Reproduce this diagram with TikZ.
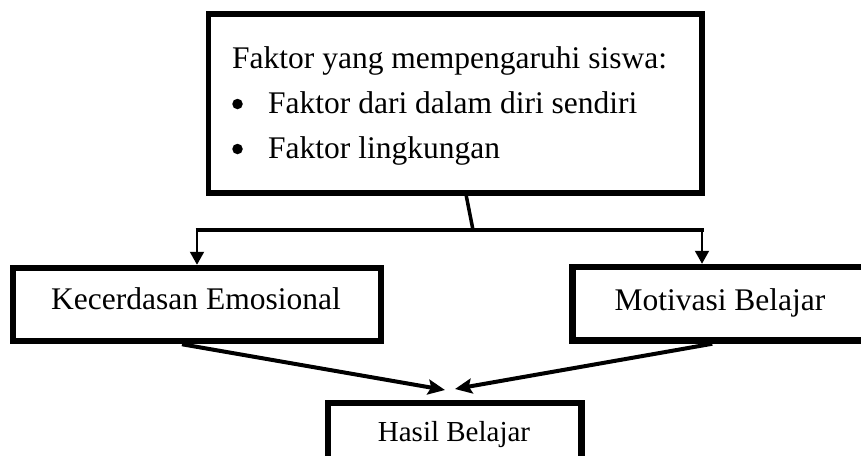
\documentclass[tikz,border=0pt]{standalone}
\usepackage{fontspec}
\setmainfont{Liberation Serif}
\usetikzlibrary{arrows.meta}
\begin{document}
\begin{tikzpicture}[x=1pt,y=-1pt,
  boxa/.style={draw=black,line width=5.5pt,inner sep=0pt,fill=white},
  boxb/.style={draw=black,line width=6.5pt,inner sep=0pt,fill=white},
  txt/.style={inner sep=0pt,font=\fontsize{31.5}{45}\selectfont},
  txts/.style={inner sep=0pt,font=\fontsize{29}{35}\selectfont},
  dot/.style={circle,fill=black,inner sep=0pt,minimum size=10.5pt},
  branch/.style={line width=3.5pt},
  downarrow/.style={line width=2pt,-{Triangle[length=13pt,width=14pt]}},
  joinarrow/.style={line width=4pt,-{Stealth[length=17pt,width=15pt,inset=3pt]}}]
\useasboundingbox (0,0) rectangle (861,455);
\clip (0,0) rectangle (861,455);
\fill[white] (0,0) rectangle (861,455);
% boxes
\node[boxa,minimum width=493.5pt,minimum height=179pt] (top) at (455.25,103.5) {};
\node[boxb,minimum width=368pt,minimum height=73pt] (ke) at (197,304.5) {};
\node[boxb,minimum width=293.5pt,minimum height=73.5pt] (mo) at (719.25,303.75) {};
\node[boxb,minimum width=253.5pt,minimum height=58pt] (ha) at (454.75,432) {};
% texts
\node[txt,anchor=base west] (t1) at (232,68) {Faktor yang mempengaruhi siswa:};
\node[dot] (b2) at (237.5,104) {};
\node[txt,anchor=base west] (t2) at (268,113) {Faktor dari dalam diri sendiri};
\node[dot] (b3) at (237.5,149) {};
\node[txt,anchor=base west] (t3) at (268,158) {Faktor lingkungan};
\node[txt,anchor=base] (ket) at (196,309) {Kecerdasan Emosional};
\node[txt,anchor=base] (mot) at (720,310) {Motivasi Belajar};
\node[txts,anchor=base] (hat) at (454,441) {Hasil Belajar};
% connectors
\coordinate (j) at (473,230);
\coordinate (bl) at (197,230);
\coordinate (br) at (702,230);
\coordinate (hl) at (445,390);
\coordinate (hr) at (455,389);
\draw[branch] ([xshift=11pt]top.south) -- (j);
\draw[branch] ([xshift=-1.5pt]bl) -- ([xshift=1.5pt]br);
\draw[downarrow] (bl) -- (ke.north);
\draw[downarrow] (br) -- (br |- mo.north);
\draw[joinarrow] ([xshift=-15pt]ke.south) -- (hl);
\draw[joinarrow] ([xshift=-7pt]mo.south) -- (hr);
\end{tikzpicture}
\end{document}
